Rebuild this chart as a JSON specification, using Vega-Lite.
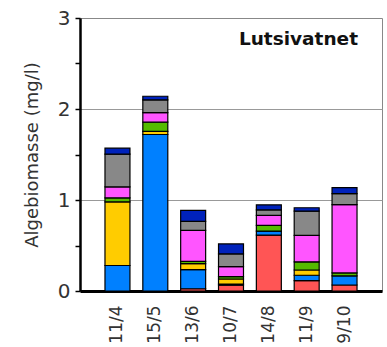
{
  "$schema": "https://vega.github.io/schema/vega-lite/v6.json",
  "width": 302,
  "height": 273,
  "autosize": "none",
  "padding": {"left": 80, "top": 18, "right": 5, "bottom": 56},
  "background": "white",
  "title": {"text": "Lutsivatnet", "anchor": "end", "orient": "top", "dy": 44, "dx": -24, "fontSize": 18.5, "font": "DejaVu Sans", "fontWeight": "bold", "color": "#111"},
  "config": {
    "view": {"stroke": "#888", "strokeWidth": 1},
    "axis": {"labelFont": "DejaVu Sans", "titleFont": "DejaVu Sans", "labelColor": "#333", "titleColor": "#333", "titleFontWeight": "normal"}
  },
  "data": {"values": [
    {"dato": "11/4", "gruppe": "Blå", "n": 2, "verdi": 0.28},
    {"dato": "11/4", "gruppe": "Gul", "n": 3, "verdi": 0.70},
    {"dato": "11/4", "gruppe": "Grønn", "n": 4, "verdi": 0.044},
    {"dato": "11/4", "gruppe": "Lilla", "n": 5, "verdi": 0.12},
    {"dato": "11/4", "gruppe": "Grå", "n": 6, "verdi": 0.36},
    {"dato": "11/4", "gruppe": "Mørkeblå", "n": 7, "verdi": 0.066},
    {"dato": "15/5", "gruppe": "Blå", "n": 2, "verdi": 1.72},
    {"dato": "15/5", "gruppe": "Gul", "n": 3, "verdi": 0.035},
    {"dato": "15/5", "gruppe": "Grønn", "n": 4, "verdi": 0.10},
    {"dato": "15/5", "gruppe": "Lilla", "n": 5, "verdi": 0.105},
    {"dato": "15/5", "gruppe": "Grå", "n": 6, "verdi": 0.14},
    {"dato": "15/5", "gruppe": "Mørkeblå", "n": 7, "verdi": 0.04},
    {"dato": "13/6", "gruppe": "Rød", "n": 1, "verdi": 0.025},
    {"dato": "13/6", "gruppe": "Blå", "n": 2, "verdi": 0.21},
    {"dato": "13/6", "gruppe": "Gul", "n": 3, "verdi": 0.066},
    {"dato": "13/6", "gruppe": "Grønn", "n": 4, "verdi": 0.025},
    {"dato": "13/6", "gruppe": "Lilla", "n": 5, "verdi": 0.34},
    {"dato": "13/6", "gruppe": "Grå", "n": 6, "verdi": 0.10},
    {"dato": "13/6", "gruppe": "Mørkeblå", "n": 7, "verdi": 0.12},
    {"dato": "10/7", "gruppe": "Rød", "n": 1, "verdi": 0.065},
    {"dato": "10/7", "gruppe": "Blå", "n": 2, "verdi": 0.012},
    {"dato": "10/7", "gruppe": "Gul", "n": 3, "verdi": 0.055},
    {"dato": "10/7", "gruppe": "Grønn", "n": 4, "verdi": 0.025},
    {"dato": "10/7", "gruppe": "Lilla", "n": 5, "verdi": 0.11},
    {"dato": "10/7", "gruppe": "Grå", "n": 6, "verdi": 0.14},
    {"dato": "10/7", "gruppe": "Mørkeblå", "n": 7, "verdi": 0.11},
    {"dato": "14/8", "gruppe": "Rød", "n": 1, "verdi": 0.615},
    {"dato": "14/8", "gruppe": "Blå", "n": 2, "verdi": 0.044},
    {"dato": "14/8", "gruppe": "Grønn", "n": 4, "verdi": 0.063},
    {"dato": "14/8", "gruppe": "Lilla", "n": 5, "verdi": 0.11},
    {"dato": "14/8", "gruppe": "Grå", "n": 6, "verdi": 0.06},
    {"dato": "14/8", "gruppe": "Mørkeblå", "n": 7, "verdi": 0.055},
    {"dato": "11/9", "gruppe": "Rød", "n": 1, "verdi": 0.113},
    {"dato": "11/9", "gruppe": "Blå", "n": 2, "verdi": 0.06},
    {"dato": "11/9", "gruppe": "Gul", "n": 3, "verdi": 0.058},
    {"dato": "11/9", "gruppe": "Grønn", "n": 4, "verdi": 0.09},
    {"dato": "11/9", "gruppe": "Lilla", "n": 5, "verdi": 0.29},
    {"dato": "11/9", "gruppe": "Grå", "n": 6, "verdi": 0.267},
    {"dato": "11/9", "gruppe": "Mørkeblå", "n": 7, "verdi": 0.037},
    {"dato": "9/10", "gruppe": "Rød", "n": 1, "verdi": 0.066},
    {"dato": "9/10", "gruppe": "Blå", "n": 2, "verdi": 0.10},
    {"dato": "9/10", "gruppe": "Grønn", "n": 4, "verdi": 0.033},
    {"dato": "9/10", "gruppe": "Lilla", "n": 5, "verdi": 0.75},
    {"dato": "9/10", "gruppe": "Grå", "n": 6, "verdi": 0.12},
    {"dato": "9/10", "gruppe": "Mørkeblå", "n": 7, "verdi": 0.066}
  ]},
  "mark": {"type": "bar", "stroke": "black", "strokeWidth": 1.2},
  "encoding": {
    "x": {
      "field": "dato", "type": "nominal", "sort": null,
      "scale": {"paddingInner": 0.34, "paddingOuter": 0.66},
      "axis": {"title": null, "labelAngle": -90, "labelFontSize": 17, "labelPadding": 14, "ticks": false, "domainColor": "black", "domainWidth": 3, "labelBaseline": "middle", "labelAlign": "right"}
    },
    "y": {
      "field": "verdi", "type": "quantitative", "stack": "zero",
      "scale": {"domain": [0, 3], "nice": false},
      "axis": {
        "title": "Algebiomasse (mg/l)", "titleFontSize": 18, "titlePadding": 16,
        "values": [0, 0.5, 1, 1.5, 2, 2.5, 3],
        "labelExpr": "datum.value % 1 === 0 ? format(datum.value, 'd') : ''",
        "labelFontSize": 20, "labelPadding": 5,
        "tickColor": "black", "tickWidth": 1.5, "tickSize": 5,
        "domainColor": "black", "domainWidth": 2.5,
        "grid": true, "gridColor": "#999", "gridWidth": 1.2,
        "gridOpacity": {"condition": {"test": "datum.value === 1 || datum.value === 2", "value": 1}, "value": 0}
      }
    },
    "color": {
      "field": "gruppe", "type": "nominal", "legend": null,
      "scale": {
        "domain": ["Rød", "Blå", "Gul", "Grønn", "Lilla", "Grå", "Mørkeblå"],
        "range": ["#FF5555", "#0080FF", "#FFCC00", "#55BB00", "#FF55FF", "#888888", "#0022BB"]
      }
    },
    "order": {"field": "n", "type": "quantitative", "sort": "ascending"}
  }
}
